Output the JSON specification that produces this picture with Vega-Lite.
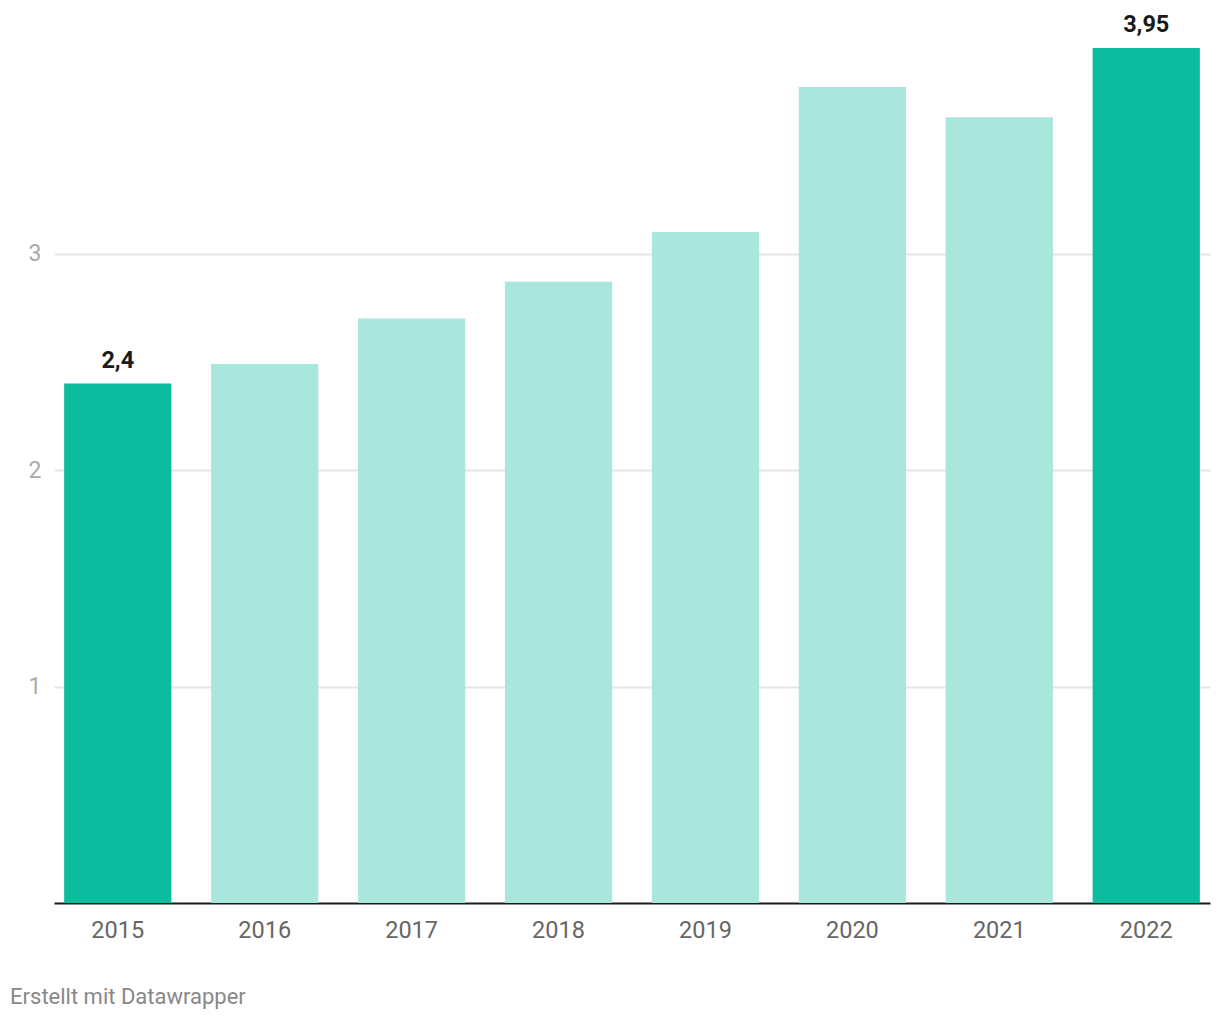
{
  "$schema": "https://vega.github.io/schema/vega-lite/v6.json",
  "width": 1156,
  "height": 855,
  "autosize": {"type": "none"},
  "padding": {"left": 54, "top": 48, "right": 10, "bottom": 117},
  "background": "#ffffff",
  "config": {"view": {"stroke": null}, "font": "Roboto"},
  "title": {
    "text": "Erstellt mit Datawrapper",
    "orient": "bottom",
    "anchor": "start",
    "dx": -18,
    "offset": 45,
    "fontSize": 22,
    "fontWeight": "normal",
    "color": "#888888",
    "font": "Roboto"
  },
  "data": {
    "values": [
      {"year": "2015", "value": 2.4, "highlight": true},
      {"year": "2016", "value": 2.49, "highlight": false},
      {"year": "2017", "value": 2.7, "highlight": false},
      {"year": "2018", "value": 2.87, "highlight": false},
      {"year": "2019", "value": 3.1, "highlight": false},
      {"year": "2020", "value": 3.77, "highlight": false},
      {"year": "2021", "value": 3.63, "highlight": false},
      {"year": "2022", "value": 3.95, "highlight": true}
    ]
  },
  "encoding": {
    "x": {
      "field": "year",
      "type": "nominal",
      "scale": {"paddingInner": 0.27, "paddingOuter": 0.069},
      "axis": {
        "title": null,
        "labelAngle": 0,
        "labelFontSize": 23.5,
        "labelColor": "#666666",
        "labelPadding": 15,
        "ticks": false,
        "domainColor": "#1a1a1a",
        "domainWidth": 2,
        "grid": false
      }
    },
    "y": {
      "field": "value",
      "type": "quantitative",
      "scale": {"domain": [0, 3.95], "nice": false},
      "axis": {
        "title": null,
        "values": [1, 2, 3],
        "labelFontSize": 23,
        "labelColor": "#aaaaaa",
        "labelPadding": 13,
        "ticks": false,
        "domain": false,
        "gridColor": "#e6e6e6",
        "gridWidth": 2
      }
    }
  },
  "layer": [
    {
      "mark": {"type": "bar"},
      "encoding": {
        "color": {
          "field": "highlight",
          "type": "nominal",
          "scale": {"domain": [true, false], "range": ["#0bbc9f", "#a9e6dc"]},
          "legend": null
        }
      }
    },
    {
      "transform": [
        {"filter": "datum.highlight"},
        {"calculate": "replace(format(datum.value, '.2~f'), '.', ',')", "as": "label"}
      ],
      "mark": {"type": "text", "baseline": "alphabetic", "dy": -16, "fontSize": 23.5, "fontWeight": "bold", "color": "#1a1a1a"},
      "encoding": {"text": {"field": "label"}}
    }
  ]
}
